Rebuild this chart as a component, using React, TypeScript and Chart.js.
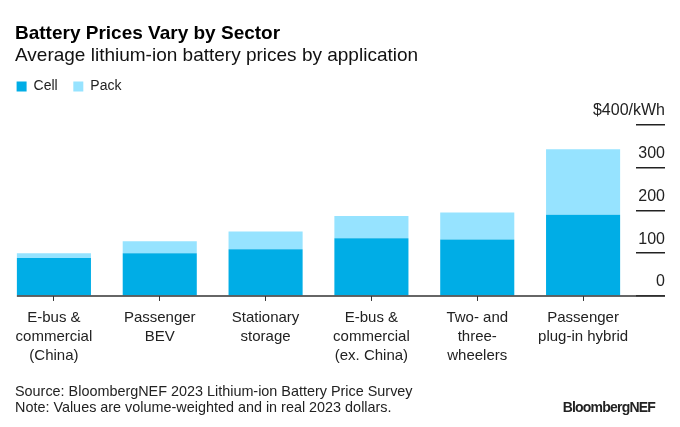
import React, { useEffect, useRef } from 'react';
import { Chart, registerables } from 'chart.js';

Chart.register(...registerables);

const categories = [
  ['E-bus &', 'commercial', '(China)'],
  ['Passenger', 'BEV'],
  ['Stationary', 'storage'],
  ['E-bus &', 'commercial', '(ex. China)'],
  ['Two- and', 'three-', 'wheelers'],
  ['Passenger', 'plug-in hybrid'],
];
// $/kWh
const cellPrices = [89, 100, 109, 135, 132, 190];
const packPrices = [100, 128, 151, 187, 195, 343];
const yTicks = [0, 100, 200, 300, 400];

const FONT = '"Liberation Sans", Arial, sans-serif';
const CELL_COLOR = '#00ADE6';
const PACK_COLOR = '#96E3FF';

// baseline runs from the first bar's left edge out under the axis labels
const baselinePlugin = {
  id: 'baseline',
  afterDatasetsDraw(chart: any) {
    const { ctx, scales } = chart;
    const first = chart.getDatasetMeta(0).data[0];
    if (!first) return;
    const py = scales.y.getPixelForValue(0);
    ctx.save();
    ctx.strokeStyle = '#333';
    ctx.lineWidth = 1.5;
    ctx.beginPath();
    ctx.moveTo(first.x - first.width / 2, py);
    ctx.lineTo(scales.y.right, py);
    ctx.stroke();
    ctx.restore();
  },
};

const PriceChart: React.FC = () => {
  const canvasRef = useRef<HTMLCanvasElement>(null);

  useEffect(() => {
    if (!canvasRef.current) return;
    const ctx = canvasRef.current.getContext('2d');
    if (!ctx) return;

    const chart = new Chart(ctx, {
      type: 'bar',
      data: {
        labels: categories,
        datasets: [
          {
            label: 'Cell',
            data: cellPrices,
            backgroundColor: CELL_COLOR,
          },
          {
            label: 'Pack',
            data: packPrices.map((p, i) => p - cellPrices[i]),
            backgroundColor: PACK_COLOR,
          },
        ],
      },
      options: {
        animation: false,
        responsive: true,
        maintainAspectRatio: false,
        layout: { padding: { top: 64, left: 1, right: 15, bottom: 54 } },
        datasets: {
          bar: { categoryPercentage: 1, barPercentage: 0.7 },
        },
        plugins: {
          tooltip: { enabled: false },
          legend: {
            position: 'top',
            align: 'start',
            labels: {
              boxWidth: 10,
              boxHeight: 10,
              padding: 15.6,
              color: '#222',
              font: { family: FONT, size: 14 },
            },
          },
        },
        scales: {
          x: {
            stacked: true,
            border: { display: false },
            grid: {
              offset: false,
              drawOnChartArea: false,
              drawTicks: true,
              tickLength: 5,
              color: '#333',
            },
            ticks: {
              padding: 7,
              color: '#222',
              maxRotation: 0,
              autoSkip: false,
              font: { family: FONT, size: 15, lineHeight: 1.29 },
            },
          },
          y: {
            stacked: true,
            position: 'right',
            min: 0,
            max: 450,
            border: { display: false },
            grid: {
              drawOnChartArea: false,
              drawTicks: true,
              tickLength: 29,
              color: '#222',
              lineWidth: 1.5,
            },
            afterBuildTicks: (axis: any) => {
              axis.ticks = yTicks.map((v) => ({ value: v }));
            },
            afterFit: (axis: any) => {
              axis.width = 29;
            },
            ticks: {
              // mirrored so the wide top label is not clipped to the axis box;
              // padding pushes the right edge out to the end of the tick lines
              mirror: true,
              crossAlign: 'near',
              padding: 29,
              labelOffset: -14,
              color: '#222',
              font: { family: FONT, size: 16 },
              callback: (v: any) => (v === 400 ? '$400/kWh' : String(v)),
            },
          },
        },
      },
      plugins: [baselinePlugin],
    });

    return () => chart.destroy();
  }, []);

  return <canvas ref={canvasRef} />;
};

export default function App() {
  useEffect(() => {
    document.body.style.margin = '0';
  }, []);

  const text: React.CSSProperties = {
    position: 'absolute',
    left: 15,
    lineHeight: 1,
    whiteSpace: 'nowrap',
    color: '#111',
  };

  return (
    <div style={{ position: 'relative', width: 680, height: 427, fontFamily: FONT, background: '#fff' }}>
      <div style={{ position: 'absolute', inset: 0 }}>
        <PriceChart />
      </div>
      <div style={{ ...text, top: 23, fontSize: 19, fontWeight: 700, color: '#000' }}>
        Battery Prices Vary by Sector
      </div>
      <div style={{ ...text, top: 45, fontSize: 19 }}>
        Average lithium-ion battery prices by application
      </div>
      <div style={{ ...text, top: 384, fontSize: 14.4, color: '#222' }}>
        Source: BloombergNEF 2023 Lithium-ion Battery Price Survey
      </div>
      <div style={{ ...text, top: 399.7, fontSize: 14.4, color: '#222' }}>
        Note: Values are volume-weighted and in real 2023 dollars.
      </div>
      <div
        style={{
          ...text,
          left: 'auto',
          right: 25,
          top: 400,
          fontSize: 14,
          fontWeight: 700,
          letterSpacing: -0.8,
          color: '#222',
        }}
      >
        BloombergNEF
      </div>
    </div>
  );
}
